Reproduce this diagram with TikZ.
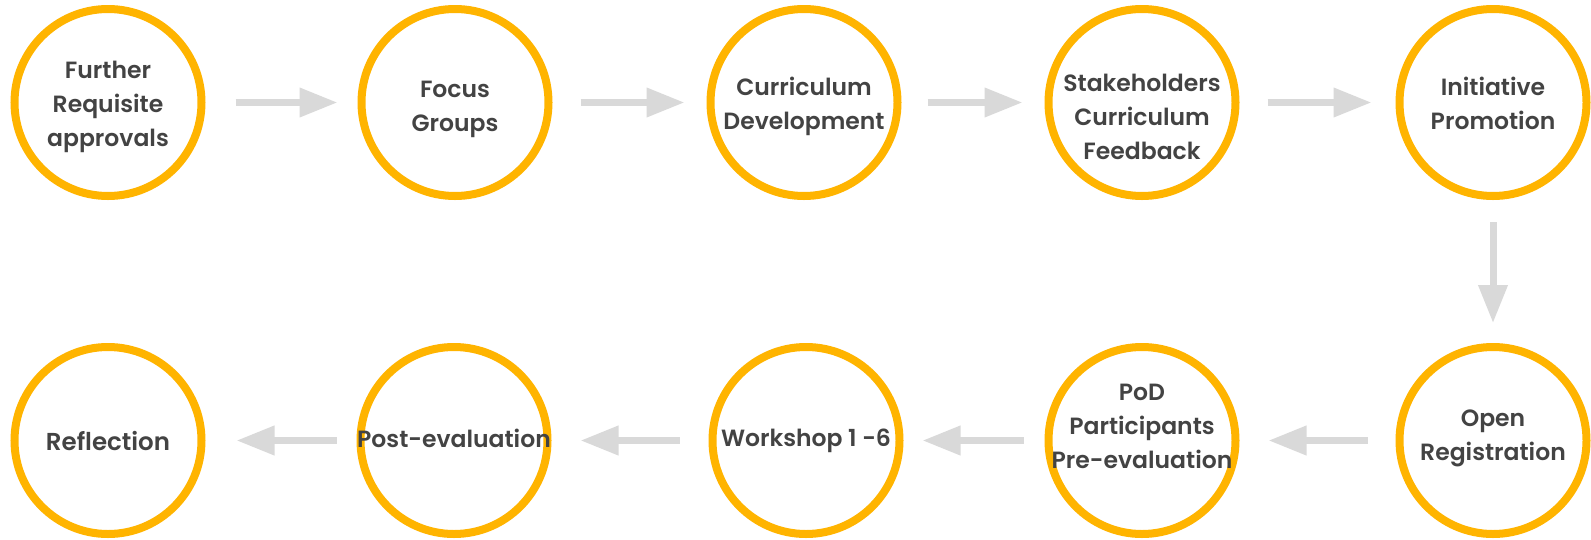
\documentclass[tikz,border=0pt]{standalone}
\usepackage{fontspec}
\setmainfont{Poppins}[BoldFont={Poppins SemiBold}]
\usetikzlibrary{arrows.meta}
\definecolor{ring}{HTML}{FFB400}
\definecolor{arrowgray}{HTML}{D9D9D9}
\definecolor{txt}{HTML}{434343}
\begin{document}
\begin{tikzpicture}[x=1pt,y=-1pt,
  stage/.style={circle,draw=ring,line width=8pt,minimum size=187pt,inner sep=0pt,outer sep=0pt,fill=white},
  lbl/.style={align=center,text=txt,font=\fontsize{23.5}{34}\selectfont\bfseries,inner sep=0pt},
  flow/.style={draw=arrowgray,line width=7pt,-{Triangle[length=38pt,width=28pt]}}]
\useasboundingbox[fill=white] (0,0) rectangle (1591,539);
% circles
\node[stage] (A) at (108,102.5) {};
\node[stage] (B) at (455,102.5) {};
\node[stage] (C) at (804,102.5) {};
\node[stage] (D) at (1142,102.5) {};
\node[stage] (E) at (1493,102.5) {};
\node[stage] (F) at (1493,440.5) {};
\node[stage] (G) at (1142,440.5) {};
\node[stage] (H) at (806,440.5) {};
\node[stage] (I) at (454,440.5) {};
\node[stage] (J) at (108,440.5) {};
% labels
\node[lbl] (tA) at (108,107) {Further\\Requisite\\approvals};
\node[lbl] (tB) at (455,109) {Focus\\Groups};
\node[lbl] (tC) at (804,106) {Curriculum\\Development};
\node[lbl] (tD) at (1142,116.5) {Stakeholders\\Curriculum\\Feedback};
\node[lbl] (tE) at (1493,103.5) {Initiative\\Promotion};
\node[lbl] (tF) at (1493,438.3) {Open\\Registration};
\node[lbl] (tG) at (1142,426.5) {PoD\\Participants\\Pre-evaluation};
\node[lbl] (tH) at (806,441) {Workshop 1 -6};
\node[lbl] (tI) at (454,438.5) {Post-evaluation};
\node[lbl,font=\fontsize{24.5}{34}\selectfont\bfseries] (tJ) at (108,441) {Reflection};
% connectors
\draw[flow,shorten <=34pt,shorten >=24pt] (A) -- (B);
\draw[flow,shorten <=32pt,shorten >=26pt] (B) -- (C);
\draw[flow,shorten <=30pt,shorten >=26pt] (C) -- (D);
\draw[flow,shorten <=32pt,shorten >=28pt] (D) -- (E);
\draw[flow,shorten <=26pt,shorten >=24pt] (E) -- (F);
\draw[flow,shorten <=32pt,shorten >=33pt] (F) -- (G);
\draw[flow,shorten <=25pt,shorten >=23pt] (G) -- (H);
\draw[flow,shorten <=33pt,shorten >=33pt] (H) -- (I);
\draw[flow,shorten <=24pt,shorten >=35pt] (I) -- (J);
\end{tikzpicture}
\end{document}
